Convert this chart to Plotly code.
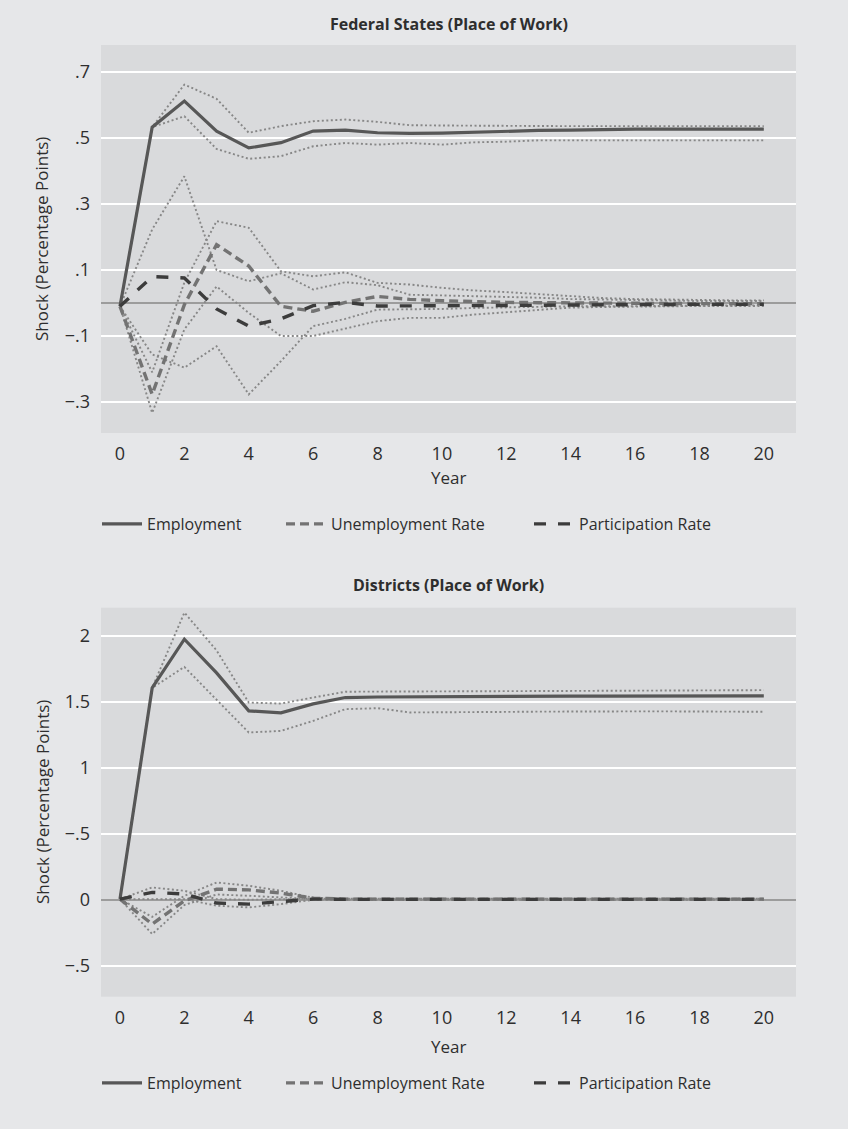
import plotly.graph_objects as go

years = list(range(21))

# ---- Federal States (Place of Work) ----
fs_emp = [-0.01, 0.533, 0.612, 0.521, 0.470, 0.486, 0.521, 0.524, 0.516, 0.514, 0.515,
          0.518, 0.521, 0.523, 0.524, 0.526, 0.527, 0.527, 0.527, 0.527, 0.527]
fs_emp_hi = [-0.01, 0.533, 0.662, 0.619, 0.516, 0.536, 0.551, 0.556, 0.549, 0.539, 0.538,
             0.537, 0.537, 0.536, 0.536, 0.536, 0.536, 0.536, 0.536, 0.536, 0.536]
fs_emp_lo = [-0.01, 0.533, 0.566, 0.467, 0.437, 0.445, 0.475, 0.485, 0.480, 0.485, 0.480,
             0.487, 0.489, 0.493, 0.493, 0.493, 0.493, 0.493, 0.493, 0.493, 0.493]
fs_ur = [-0.01, -0.277, -0.005, 0.177, 0.112, -0.010, -0.025, 0.002, 0.020, 0.011, 0.007,
         0.004, 0.002, 0.001, 0.000, -0.001, -0.002, -0.002, -0.002, -0.002, -0.002]
fs_ur_hi = [-0.01, -0.210, 0.062, 0.248, 0.228, 0.096, 0.081, 0.093, 0.061, 0.056, 0.046,
            0.038, 0.033, 0.027, 0.020, 0.015, 0.012, 0.010, 0.009, 0.008, 0.008]
fs_ur_lo = [-0.01, -0.333, -0.080, 0.050, -0.030, -0.100, -0.100, -0.078, -0.055, -0.045, -0.045,
            -0.035, -0.028, -0.020, -0.014, -0.012, -0.010, -0.010, -0.009, -0.009, -0.009]
fs_pr = [-0.01, 0.080, 0.076, -0.018, -0.070, -0.048, -0.008, 0.002, -0.009, -0.009, -0.009,
         -0.009, -0.008, -0.007, -0.006, -0.005, -0.005, -0.004, -0.004, -0.004, -0.004]
fs_pr_hi = [-0.01, 0.223, 0.384, 0.100, 0.066, 0.090, 0.041, 0.063, 0.054, 0.025, 0.023,
            0.021, 0.020, 0.016, 0.012, 0.010, 0.008, 0.007, 0.006, 0.006, 0.006]
fs_pr_lo = [-0.01, -0.156, -0.196, -0.131, -0.277, -0.176, -0.070, -0.048, -0.020, -0.020, -0.018,
            -0.015, -0.013, -0.011, -0.010, -0.010, -0.009, -0.008, -0.008, -0.007, -0.007]

# ---- Districts (Place of Work) ----
d_emp = [0.005, 1.606, 1.975, 1.720, 1.432, 1.417, 1.485, 1.533, 1.537, 1.539, 1.540,
         1.541, 1.542, 1.543, 1.543, 1.544, 1.544, 1.545, 1.545, 1.545, 1.545]
d_emp_hi = [0.005, 1.606, 2.177, 1.890, 1.495, 1.487, 1.533, 1.577, 1.578, 1.578, 1.579,
            1.580, 1.581, 1.582, 1.583, 1.584, 1.585, 1.586, 1.587, 1.588, 1.589]
d_emp_lo = [0.005, 1.606, 1.765, 1.520, 1.268, 1.280, 1.356, 1.445, 1.452, 1.420, 1.420,
            1.422, 1.424, 1.426, 1.428, 1.428, 1.428, 1.428, 1.427, 1.426, 1.425]
d_ur = [0.005, -0.184, -0.008, 0.080, 0.075, 0.050, 0.012, 0.005, 0.005, 0.005, 0.005,
        0.005, 0.005, 0.005, 0.005, 0.005, 0.005, 0.005, 0.005, 0.005, 0.005]
d_ur_hi = [0.005, -0.130, 0.030, 0.131, 0.106, 0.068, 0.015, 0.008, 0.008, 0.008, 0.008,
           0.008, 0.008, 0.008, 0.008, 0.008, 0.008, 0.008, 0.008, 0.008, 0.008]
d_ur_lo = [0.005, -0.260, -0.040, 0.040, 0.030, 0.020, 0.005, 0.002, 0.002, 0.002, 0.002,
           0.002, 0.002, 0.002, 0.002, 0.002, 0.002, 0.002, 0.002, 0.002, 0.002]
d_pr = [0.005, 0.056, 0.043, -0.025, -0.033, -0.013, 0.005, 0.003, 0.003, 0.003, 0.003,
        0.003, 0.003, 0.003, 0.003, 0.003, 0.003, 0.003, 0.003, 0.003, 0.003]
d_pr_hi = [0.005, 0.093, 0.068, 0.005, 0.000, 0.005, 0.008, 0.008, 0.008, 0.008, 0.008,
           0.008, 0.008, 0.008, 0.008, 0.008, 0.008, 0.008, 0.008, 0.008, 0.008]
d_pr_lo = [0.005, 0.005, 0.005, -0.045, -0.058, -0.033, 0.000, 0.000, 0.000, 0.000, 0.000,
           0.000, 0.000, 0.000, 0.000, 0.000, 0.000, 0.000, 0.000, 0.000, 0.000]

x_ticks = list(range(0, 21, 2))
fs_yticks = [-0.3, -0.1, 0.1, 0.3, 0.5, 0.7]
fs_yticktext = ["\u2212.3", "\u2212.1", ".1", ".3", ".5", ".7"]
d_yticks = [-0.5, 0, 0.5, 1, 1.5, 2]
d_yticktext = ["\u2212.5", "0", "\u2212.5", "1", "1.5", "2"]

series_names = ["Employment", "Unemployment Rate", "Participation Rate"]
panel_titles = ["Federal States (Place of Work)", "Districts (Place of Work)"]

W, H = 848, 1129
FONT = "Open Sans"
PAPER = "#e6e7e9"
PLOT = "#d9dadc"
C_EMP = "#575757"
C_UR = "#737373"
C_PR = "#3c3c3c"
C_BAND = "#878787"
C_TEXT = "#2e2e2e"

fig = go.Figure()

panels = [
    dict(xa="x", ya="y", emp=fs_emp, emp_hi=fs_emp_hi, emp_lo=fs_emp_lo,
         ur=fs_ur, ur_hi=fs_ur_hi, ur_lo=fs_ur_lo, pr=fs_pr, pr_hi=fs_pr_hi, pr_lo=fs_pr_lo,
         legends=["legend", "legend2", "legend3"]),
    dict(xa="x2", ya="y2", emp=d_emp, emp_hi=d_emp_hi, emp_lo=d_emp_lo,
         ur=d_ur, ur_hi=d_ur_hi, ur_lo=d_ur_lo, pr=d_pr, pr_hi=d_pr_hi, pr_lo=d_pr_lo,
         legends=["legend4", "legend5", "legend6"]),
]

band_line = dict(color=C_BAND, width=1.9, dash="2px,2.5px")
for p in panels:
    for key in ["emp_hi", "emp_lo", "ur_hi", "ur_lo", "pr_hi", "pr_lo"]:
        fig.add_trace(go.Scatter(x=years, y=p[key], mode="lines", line=band_line,
                                 xaxis=p["xa"], yaxis=p["ya"], showlegend=False,
                                 hoverinfo="skip"))
    fig.add_trace(go.Scatter(x=years, y=p["emp"], mode="lines", name=series_names[0],
                             line=dict(color=C_EMP, width=3.2),
                             xaxis=p["xa"], yaxis=p["ya"], legend=p["legends"][0]))
    fig.add_trace(go.Scatter(x=years, y=p["ur"], mode="lines", name=series_names[1],
                             line=dict(color=C_UR, width=3.4, dash="9px,5px"),
                             xaxis=p["xa"], yaxis=p["ya"], legend=p["legends"][1]))
    fig.add_trace(go.Scatter(x=years, y=p["pr"], mode="lines", name=series_names[2],
                             line=dict(color=C_PR, width=3.4, dash="12px,12px"),
                             xaxis=p["xa"], yaxis=p["ya"], legend=p["legends"][2]))

def px_x(v):
    return v / W

def px_y(v):
    return 1 - v / H

x_dom = [px_x(101), px_x(796)]
top_dom = [px_y(433), px_y(45)]
bot_dom = [px_y(996.7), px_y(607.7)]

xaxis_common = dict(range=[-0.59, 21.0], tickvals=x_ticks, showgrid=False, zeroline=False,
                    showline=False, ticks="", ticklabelstandoff=8,
                    tickfont=dict(family=FONT, size=18, color=C_TEXT), domain=x_dom)
yaxis_common = dict(showgrid=True, gridcolor="#ffffff", gridwidth=2, zeroline=True,
                    zerolinecolor="#9c9c9c", zerolinewidth=1.5, showline=False, ticks="",
                    ticklabelstandoff=10,
                    tickfont=dict(family=FONT, size=18, color=C_TEXT))

legend_common = dict(orientation="h", bgcolor="rgba(0,0,0,0)", borderwidth=0,
                     font=dict(family=FONT, size=16, color=C_TEXT),
                     xanchor="left", yanchor="middle", itemwidth=40)

layout = dict(
    width=W, height=H, paper_bgcolor=PAPER, plot_bgcolor=PLOT,
    margin=dict(l=0, r=0, t=0, b=0), showlegend=True,
    xaxis=dict(xaxis_common, anchor="y"),
    yaxis=dict(yaxis_common, domain=top_dom, range=[-0.394, 0.782], tickvals=fs_yticks,
               ticktext=fs_yticktext, anchor="x"),
    xaxis2=dict(xaxis_common, anchor="y2"),
    yaxis2=dict(yaxis_common, domain=bot_dom, range=[-0.735, 2.214], tickvals=d_yticks,
                ticktext=d_yticktext, anchor="x2"),
)
leg_x = [97, 281, 529]
for i, name in enumerate(["legend", "legend2", "legend3"]):
    layout[name] = dict(legend_common, x=px_x(leg_x[i]), y=px_y(524))
for i, name in enumerate(["legend4", "legend5", "legend6"]):
    layout[name] = dict(legend_common, x=px_x(leg_x[i]), y=px_y(1083))

fig.update_layout(**layout)

annots = []
for title, ty in zip(panel_titles, [24, 585]):
    annots.append(dict(text="<b>" + title + "</b>", x=px_x(448.5), y=px_y(ty), xref="paper",
                       yref="paper", showarrow=False, xanchor="center", yanchor="middle",
                       font=dict(family=FONT, size=16, color=C_TEXT)))
for ty in [478, 1046]:
    annots.append(dict(text="Year", x=px_x(448.5), y=px_y(ty), xref="paper", yref="paper",
                       showarrow=False, xanchor="center", yanchor="middle",
                       font=dict(family=FONT, size=17, color=C_TEXT)))
for ty in [239, 802]:
    annots.append(dict(text="Shock (Percentage Points)", x=px_x(42), y=px_y(ty), xref="paper",
                       yref="paper", showarrow=False, xanchor="center", yanchor="middle",
                       textangle=-90, font=dict(family=FONT, size=17, color=C_TEXT)))
fig.update_layout(annotations=annots)

fig.write_html("out.html",
               config={"displayModeBar": False},
               post_script="document.body.style.margin='0px';"
                           "document.body.style.overflow='hidden';")
